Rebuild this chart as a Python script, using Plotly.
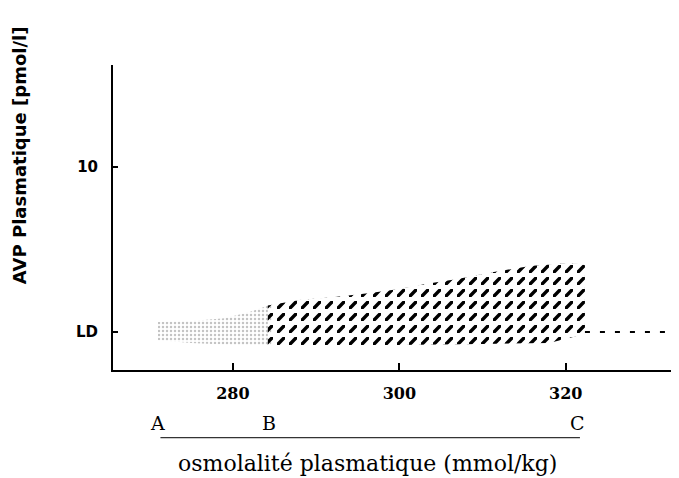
import plotly.graph_objects as go

# envelope of the grey (speckled) zone, A -> B
grey_x = [271.0, 271.0, 275.0, 279.0, 282.0, 284.6, 284.6, 280.0, 275.0, 271.0]
grey_y = [0.55, 1.55, 1.6, 1.75, 2.1, 2.5, 0.3, 0.3, 0.4, 0.55]

# envelope of the dark (hatched) zone, B -> C
dark_x = [284.2, 288.0, 292.0, 296.5, 300.0, 303.5, 307.0, 311.0, 315.7, 319.0, 321.3, 322.3,
          322.3, 318.0, 310.0, 300.0, 290.0, 284.2]
dark_y = [2.45, 2.75, 2.9, 3.13, 3.35, 3.65, 3.9, 4.25, 4.6, 4.72, 4.76, 4.65,
          0.9, 0.4, 0.35, 0.3, 0.3, 0.3]

# detection-limit level beyond C
ld_x = [322.3, 333.0]
ld_y = [1.0, 1.0]

# points A, B, C under the axis
abc_x = [271.0, 284.4, 321.4]
abc_lab = ["A", "B", "C"]

xtick_vals = [280, 300, 320]
xtick_text = ["<b>280</b>", "<b>300</b>", "<b>320</b>"]
ytick_vals = [1, 10]
ytick_text = ["<b>LD</b>", "<b>10</b>"]


def zone(x, y, shape, color, size, solidity):
    return go.Scatter(
        x=x, y=y, mode="lines", fill="toself",
        line=dict(width=0, color=color), fillcolor=color,
        fillpattern=dict(shape=shape, fgcolor=color, fgopacity=1, bgcolor="rgba(0,0,0,0)",
                         size=size, solidity=solidity),
        hoverinfo="skip", showlegend=False
    )


fig = go.Figure()

fig.add_trace(zone(grey_x, grey_y, ".", "#c4c4c4", 4, 0.3))

# diagonal hatching ("/" tile is size*sqrt(2) = 12px), then white bands on the
# same 12px grid cut it into short separate dashes
fig.add_trace(zone(dark_x, dark_y, "/", "#000000", 12 / 2 ** 0.5, 0.4))
fig.add_trace(zone(dark_x, dark_y, "-", "#ffffff", 12, 0.33))
fig.add_trace(zone(dark_x, dark_y, "|", "#ffffff", 12, 0.33))

fig.add_trace(go.Scatter(
    x=ld_x, y=ld_y, mode="lines",
    line=dict(color="black", width=2, dash="5px,10px"),
    hoverinfo="skip", showlegend=False
))

for xv, lab in zip(abc_x, abc_lab):
    fig.add_annotation(x=xv, y=-0.174, xref="x", yref="paper", text=lab, showarrow=False,
                       yanchor="middle", xanchor="center",
                       font=dict(family="DejaVu Serif", size=19, color="black"))
fig.add_shape(type="line", xref="x", yref="paper", x0=abc_x[0] + 0.3, x1=abc_x[2] + 0.3,
              y0=-0.222, y1=-0.222, line=dict(color="black", width=1))

fig.add_annotation(x=0.449, y=-0.308, xref="paper", yref="paper",
                   yanchor="middle", xanchor="center",
                   text="osmolalité plasmatique (mmol/kg)", showarrow=False,
                   font=dict(family="DejaVu Serif", size=22, color="black"))
fig.add_annotation(x=-0.164, y=0.705, xref="paper", yref="paper", textangle=-90,
                   yanchor="middle", xanchor="center",
                   text="<b>AVP Plasmatique [pmol/l]</b>", showarrow=False,
                   font=dict(family="DejaVu Sans", size=18, color="black"))

fig.update_xaxes(range=[265.6, 333.6], showgrid=False, zeroline=False,
                 showline=True, linecolor="black", linewidth=2,
                 ticks="inside", ticklen=7, tickwidth=2, tickcolor="black",
                 tickvals=xtick_vals, ticktext=xtick_text, ticklabelstandoff=8,
                 tickfont=dict(family="DejaVu Serif", size=16, color="black"))
fig.update_yaxes(range=[-1.07, 15.57], showgrid=False, zeroline=False,
                 showline=True, linecolor="black", linewidth=2,
                 ticks="inside", ticklen=5, tickwidth=2, tickcolor="black",
                 tickvals=ytick_vals, ticktext=ytick_text, ticklabelstandoff=10,
                 tickfont=dict(family="DejaVu Sans", size=15, color="black"))

# page body has an 8px margin, so the figure is trimmed by that much
fig.update_layout(width=671, height=470, margin=dict(l=105, r=0, t=57, b=108),
                  plot_bgcolor="white", paper_bgcolor="white", showlegend=False)

fig.write_html("out.html")
